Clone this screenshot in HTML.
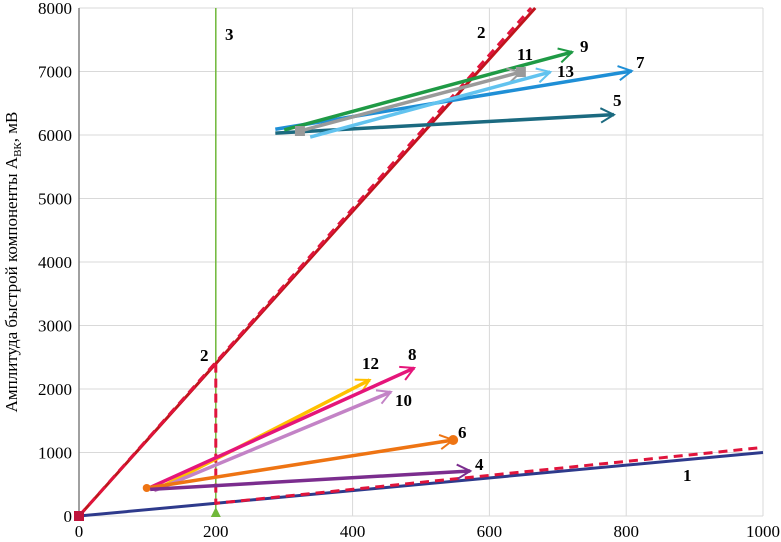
<!DOCTYPE html>
<html><head><meta charset="utf-8"><style>
body{margin:0;background:#fff}
svg{display:block;font-family:"Liberation Serif","DejaVu Serif",serif}
</style></head><body>
<svg id="c" width="781" height="542"></svg>
<script>
const xTicks=[0,200,400,600,800,1000];
const yTicks=[0,1000,2000,3000,4000,5000,6000,7000,8000];
const arrowIds=["5","7","9","11","13","12","8","10","6","4"];
const arrowStartX=[287,287,300,323,338,110,100,110,99,104];
const arrowStartY=[6030,6090,6080,6063,5968,400,430,400,441,420];
const arrowEndX=[782,808,721,646,689,425,490,456,547,572];
const arrowEndY=[6320,7008,7307,6992,6992,2142,2330,1953,1197,709];
const arrowColors=["#1b6a80","#1f8fd6","#1f9a45","#9a9a9a","#62c3ef","#ffc000","#e5157a","#c383c6","#ee7413","#7b2d8e"];
const line1X=[0,1000],line1Y=[0,1000];
const line2X=[0,667],line2Y=[0,8000];
const dashX=[0,661,null,200,200,1000],dashY=[0,8000,null,2400,200,1080];
const line3X=[200,200],line3Y=[0,8000];
const X=v=>79+v*0.684, Y=v=>516-v*0.0635;
const s=document.getElementById('c'),NS="http://www.w3.org/2000/svg";
function el(t,a,p){const e=document.createElementNS(NS,t);for(const k in a)e.setAttribute(k,a[k]);(p||s).appendChild(e);return e;}
xTicks.forEach(v=>{const g=el('line',{x1:X(v),x2:X(v),y1:Y(0),y2:Y(8000),stroke:'#d9d9d9'});


const t=el('text',{x:X(v),y:537,'text-anchor':'middle','font-size':17});t.textContent=v;

});
yTicks.forEach(v=>{const g=el('line',{x1:X(0),x2:X(1000),y1:Y(v),y2:Y(v),stroke:'#d9d9d9'});


const t=el('text',{x:72,y:Y(v)+6,'text-anchor':'end','font-size':17});t.textContent=v;

});
const ax=el('line',{x1:79,x2:79,y1:Y(8000),y2:Y(0),stroke:'#808080','stroke-width':1.5});


const ti=el('text',{transform:'translate(17,262) rotate(-90)','text-anchor':'middle','font-size':17});
ti.innerHTML='Амплитуда быстрой компоненты A<tspan font-size="11" dy="4">ВК</tspan><tspan dy="-4">, мВ</tspan>';


function poly(xs,ys,st,name){let d='',m=true;for(let i=0;i<xs.length;i++){if(xs[i]===null){m=true;continue;}d+=(m?'M':'L')+X(xs[i])+','+Y(ys[i]);m=false;}
const p=el('path',Object.assign({d,fill:'none'},st));return p;}
poly(line3X,line3Y,{stroke:'#70b83a','stroke-width':1.5},'line-3');
poly(line1X,line1Y,{stroke:'#2e3a8c','stroke-width':3},'line-1');
poly(line2X,line2Y,{stroke:'#c0141c','stroke-width':3},'line-2');
poly(dashX,dashY,{stroke:'#e0143c','stroke-width':3,'stroke-dasharray':'9,6'},'line-2-dashed');
const tri=el('path',{d:`M${X(200)-5},${Y(0)+1}L${X(200)+5},${Y(0)+1}L${X(200)},${Y(0)-9}Z`,fill:'#70b83a'});


const sq=el('rect',{x:X(0)-5,y:Y(0)-5,width:10,height:10,fill:'#c0143c'});


arrowIds.forEach((id,i)=>{const x1=X(arrowStartX[i]),y1=Y(arrowStartY[i]),x2=X(arrowEndX[i]),y2=Y(arrowEndY[i]),c=arrowColors[i];
const g=el('g',{});
el('line',{x1,y1,x2,y2,stroke:c,'stroke-width':3.5},g);
const a=Math.atan2(y2-y1,x2-x1),L=15,w=0.5;
el('path',{d:`M${x2-L*Math.cos(a-w)},${y2-L*Math.sin(a-w)}L${x2},${y2}L${x2-L*Math.cos(a+w)},${y2-L*Math.sin(a+w)}`,stroke:c,'stroke-width':2,fill:'none'},g);
if(id==='6'){el('circle',{cx:x2,cy:y2,r:5,fill:c},g);el('circle',{cx:x1,cy:y1,r:4,fill:c},g);}
if(id==='11'){el('rect',{x:x2-5,y:y2-5,width:10,height:10,fill:c},g);el('rect',{x:x1-5,y:y1-5,width:10,height:10,fill:c},g);}
});
const labX=[613,636,580,517,557,362,408,395,458,475,477,200,225,683];
const labY=[106,68,52,60,77,369,360,406,438,470,38,361,40,481];
const labT=["5","7","9","11","13","12","8","10","6","4","2","2","3","1"];
labT.forEach((t,i)=>{const e=el('text',{x:labX[i],y:labY[i],'font-size':17,'font-weight':'bold'});e.textContent=t;

});
</script>
</body></html>
